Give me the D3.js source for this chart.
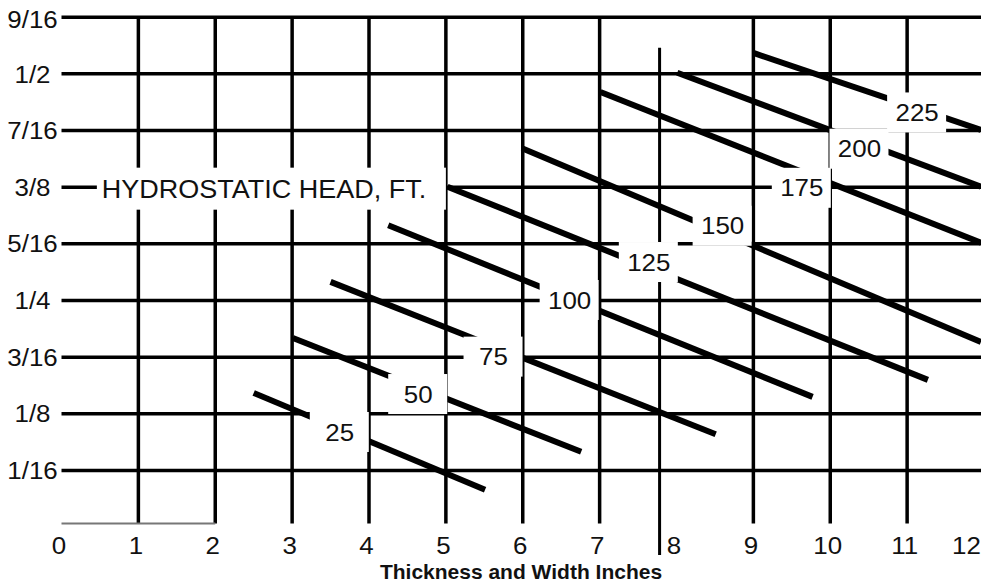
<!DOCTYPE html>
<html>
<head>
<meta charset="utf-8">
<script src="https://cdn.jsdelivr.net/npm/d3@7"></script>
<style>
body { margin: 0; background: #fff; }
svg { display: block; }
text { font-family: "Liberation Sans", Arial, sans-serif; fill: #111; }
</style>
</head>
<body>
<main></main>
<script>
// thickness in inches (x), head lines in sixteenths of an inch (y)
var xTicks = [0, 1, 2, 3, 4, 5, 6, 7, 8, 9, 10, 11, 12];
var yTicks = [1, 2, 3, 4, 5, 6, 7, 8, 9];
var yTickLabels = ["1/16", "1/8", "3/16", "1/4", "5/16", "3/8", "7/16", "1/2", "9/16"];
var gridX = [1, 2, 3, 4, 5, 6, 7, 9, 10, 11];
var strayX = 7.78, strayTop = 8.45, strayBottom = -0.5;
var baseLine = [0, 2];

var heads = [25, 50, 75, 100, 125, 150, 175, 200, 225];
var lineStart = [[2.50, 2.36], [3.01, 3.33], [3.50, 4.32], [4.25, 5.32], [5.02, 6.00],
                 [5.99, 6.68], [7.01, 7.67], [8.01, 8.01], [9.00, 8.36]];
var lineEnd   = [[5.51, 0.65], [6.76, 1.32], [8.51, 1.63], [9.77, 2.29], [11.27, 2.59],
                 [11.96, 3.26], [11.96, 5.01], [11.96, 6.00], [11.96, 7.00]];
var labelAt   = [[3.62, 1.67], [4.64, 2.34], [5.62, 3.00], [6.61, 4.00], [7.64, 4.67],
                 [8.60, 5.31], [9.63, 5.98], [10.38, 6.67], [11.13, 7.31]];

var title = "HYDROSTATIC HEAD, FT.";
var titleFrom = 0.46, titleTo = 5.0, titleY = 6;
var xLabel = "Thickness and Width Inches";

var W = 981, H = 585, stretch = 1.08;

var svg = d3.select("main")
    .append("svg")
    .attr("width", W)
    .attr("height", H);

var x = d3.scaleLinear().domain([0, 12]).range([61.5, 984]);
var y = d3.scaleLinear().domain([0, 9]).range([526.6, 16.7]);

// horizontal grid via left axis
svg.append("g")
    .attr("transform", "translate(" + x(0) + ",0)")
    .call(d3.axisLeft(y).tickValues(yTicks)
        .tickFormat(function(d, i) { return yTickLabels[i]; })
        .tickSize(-(W - x(0) + 10)))
    .call(function(g) { g.select(".domain").remove(); })
    .call(function(g) {
        g.selectAll(".tick line").attr("stroke", "#000").attr("stroke-width", 3.5);
        g.selectAll(".tick text")
            .attr("fill", "#111")
            .attr("font-size", 24)
            .attr("text-anchor", "middle")
            .attr("dy", function(d) { return d === 9 ? "0.45em" : "0.36em"; })
            .attr("x", -29 / stretch)
            .attr("transform", "scale(" + stretch + ",1)");
    });

// vertical grid
svg.append("g").selectAll("line").data(gridX).enter()
    .append("line")
    .attr("x1", function(d) { return x(d); })
    .attr("x2", function(d) { return x(d); })
    .attr("y1", y(9))
    .attr("y2", y(0) - 3)
    .attr("stroke", "#000")
    .attr("stroke-width", 3.5);

svg.append("line")
    .attr("x1", x(strayX)).attr("x2", x(strayX))
    .attr("y1", y(strayTop)).attr("y2", y(strayBottom))
    .attr("stroke", "#000").attr("stroke-width", 3);

svg.append("line")
    .attr("x1", x(baseLine[0])).attr("x2", x(baseLine[1]))
    .attr("y1", y(0) - 3).attr("y2", y(0) - 3)
    .attr("stroke", "#777").attr("stroke-width", 2);

// x axis labels
svg.append("g")
    .attr("transform", "translate(-3," + (y(0) + 10) + ")")
    .call(d3.axisBottom(x).tickValues(xTicks).tickSize(0).tickPadding(0))
    .call(function(g) { g.select(".domain").remove(); })
    .call(function(g) {
        g.selectAll(".tick text")
            .attr("fill", "#111")
            .attr("font-size", 24)
            .attr("dy", "0.71em")
            .attr("dx", function(d) { return d === 12 ? -14 : 0; })
            .attr("transform", "scale(" + stretch + ",1)");
    });

svg.append("text")
    .attr("x", 521)
    .attr("y", 579)
    .attr("text-anchor", "middle")
    .attr("font-size", 21)
    .attr("font-weight", "bold")
    .text(xLabel);

// head lines
var line = d3.line().x(function(d) { return x(d[0]); }).y(function(d) { return y(d[1]); });

svg.append("g").selectAll("path").data(heads).enter()
    .append("path")
    .attr("d", function(d, i) { return line([lineStart[i], lineEnd[i]]); })
    .attr("fill", "none")
    .attr("stroke", "#000")
    .attr("stroke-width", 6);

// head labels
var labels = svg.append("g").selectAll("g").data(heads).enter()
    .append("g")
    .attr("transform", function(d, i) {
        return "translate(" + x(labelAt[i][0]) + "," + y(labelAt[i][1]) + ")";
    });

labels.append("rect")
    .attr("x", -30).attr("y", -20)
    .attr("width", 59).attr("height", 40)
    .attr("fill", "#fff");

labels.append("text")
    .attr("text-anchor", "middle")
    .attr("dy", "0.36em")
    .attr("font-size", 24)
    .attr("transform", "scale(" + stretch + ",1)")
    .text(function(d) { return d; });

// title box
svg.append("rect")
    .attr("x", x(titleFrom))
    .attr("y", y(titleY) - 19)
    .attr("width", x(titleTo) - x(titleFrom))
    .attr("height", 42)
    .attr("fill", "#fff");

svg.append("text")
    .attr("transform", "translate(" + (x(titleFrom) + 5) + "," + (y(titleY) + 2) + ") scale(" + stretch + ",1)")
    .attr("dy", "0.36em")
    .attr("font-size", 25)
    .text(title);
</script>
</body>
</html>
